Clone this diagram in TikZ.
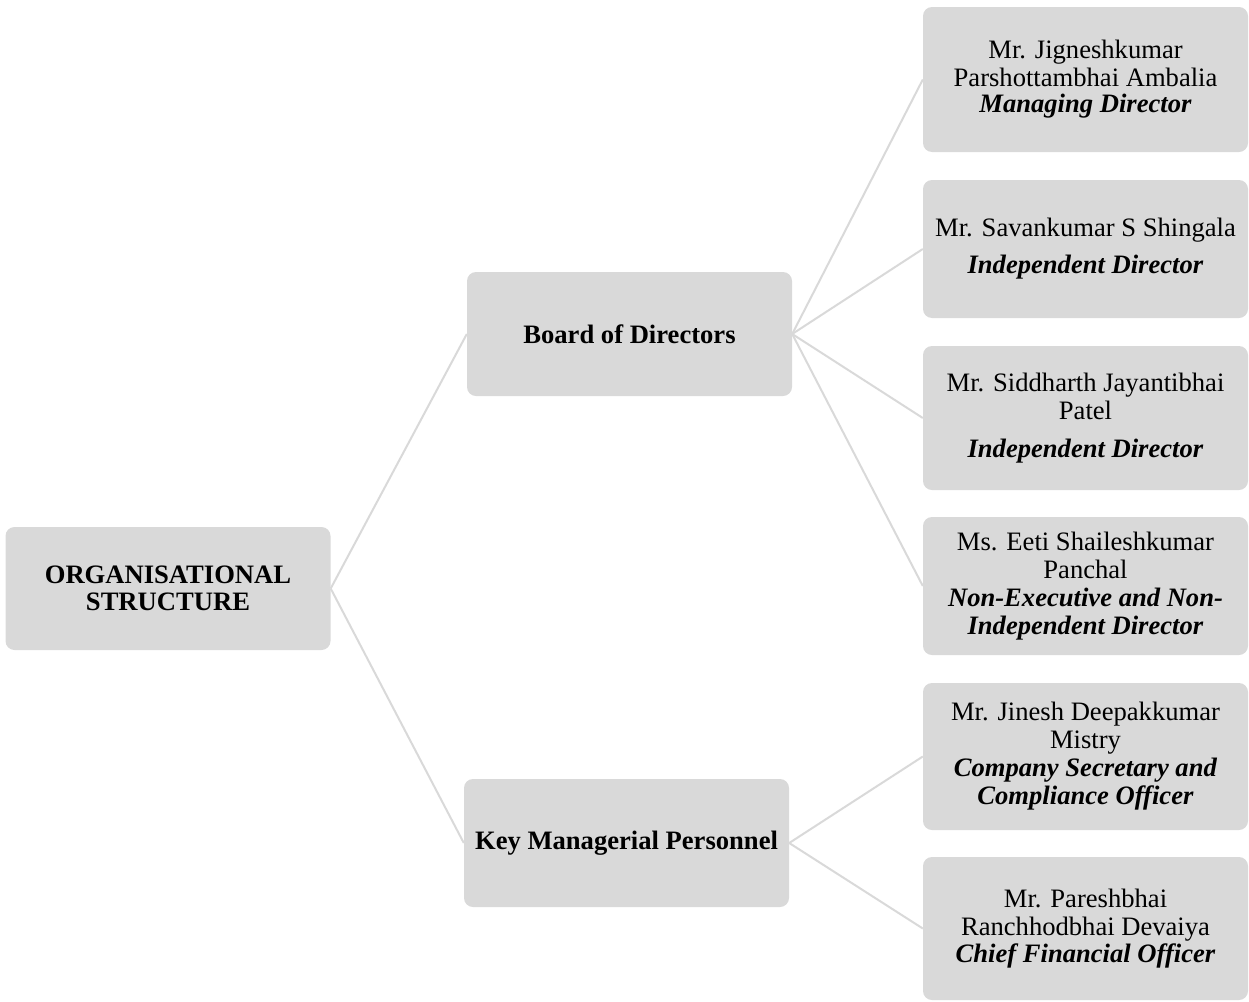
\documentclass[tikz,border=0pt]{standalone}
\usepackage{fontspec}
\setmainfont{Liberation Serif}
\definecolor{boxgray}{HTML}{D9D9D9}
\definecolor{linegray}{HTML}{D9D9D9}
\tikzset{
  orgbox/.style={fill=boxgray, draw=none, rounded corners=9pt, inner sep=0pt,
    align=center, minimum width=325pt,
    font=\fontsize{26.6}{28}\selectfont},
  conn/.style={draw=linegray, line width=2pt}
}
\begin{document}
\begin{tikzpicture}[x=1pt,y=-1pt]
\useasboundingbox (0,0) rectangle (1249,1001);
\node[orgbox, minimum height=123pt] (org) at (168,588.5) {\textbf{ORGANISATIONAL}\\[-1pt]\textbf{STRUCTURE}};
\node[orgbox, minimum height=124pt] (board) at (629.5,334) {\textbf{Board of Directors}};
\node[orgbox, minimum height=128pt] (kmp) at (626.5,843) {\textbf{Key Managerial Personnel}};
\node[orgbox, minimum height=145pt] (r1) at (1085.5,79.5) {Mr. Jigneshkumar\\Parshottambhai Ambalia\\[-2pt]\textbf{\textit{Managing Director}}};
\node[orgbox, minimum height=138pt] (r2) at (1085.5,249) {Mr. Savankumar S Shingala\\[9pt]\textbf{\textit{Independent Director}}};
\node[orgbox, minimum height=144pt] (r3) at (1085.5,418) {Mr. Siddharth Jayantibhai\\Patel\\[10pt]\textbf{\textit{Independent Director}}};
\node[orgbox, minimum height=138pt] (r4) at (1085.5,586) {Ms. Eeti Shaileshkumar\\Panchal\\\textbf{\textit{Non-Executive and Non-}}\\\textbf{\textit{Independent Director}}};
\node[orgbox, minimum height=147pt] (r5) at (1085.5,756.5) {Mr. Jinesh Deepakkumar\\Mistry\\\textbf{\textit{Company Secretary and}}\\\textbf{\textit{Compliance Officer}}};
\node[orgbox, minimum height=143pt] (r6) at (1085.5,928.5) {Mr. Pareshbhai\\Ranchhodbhai Devaiya\\[-1pt]\textbf{\textit{Chief Financial Officer}}};
\draw[conn] (org.east) -- (board.west);
\draw[conn] (org.east) -- (kmp.west);
\foreach \t in {r1,r2,r3,r4} \draw[conn] (board.east) -- (\t.west);
\foreach \t in {r5,r6} \draw[conn] (kmp.east) -- (\t.west);
\end{tikzpicture}
\end{document}
